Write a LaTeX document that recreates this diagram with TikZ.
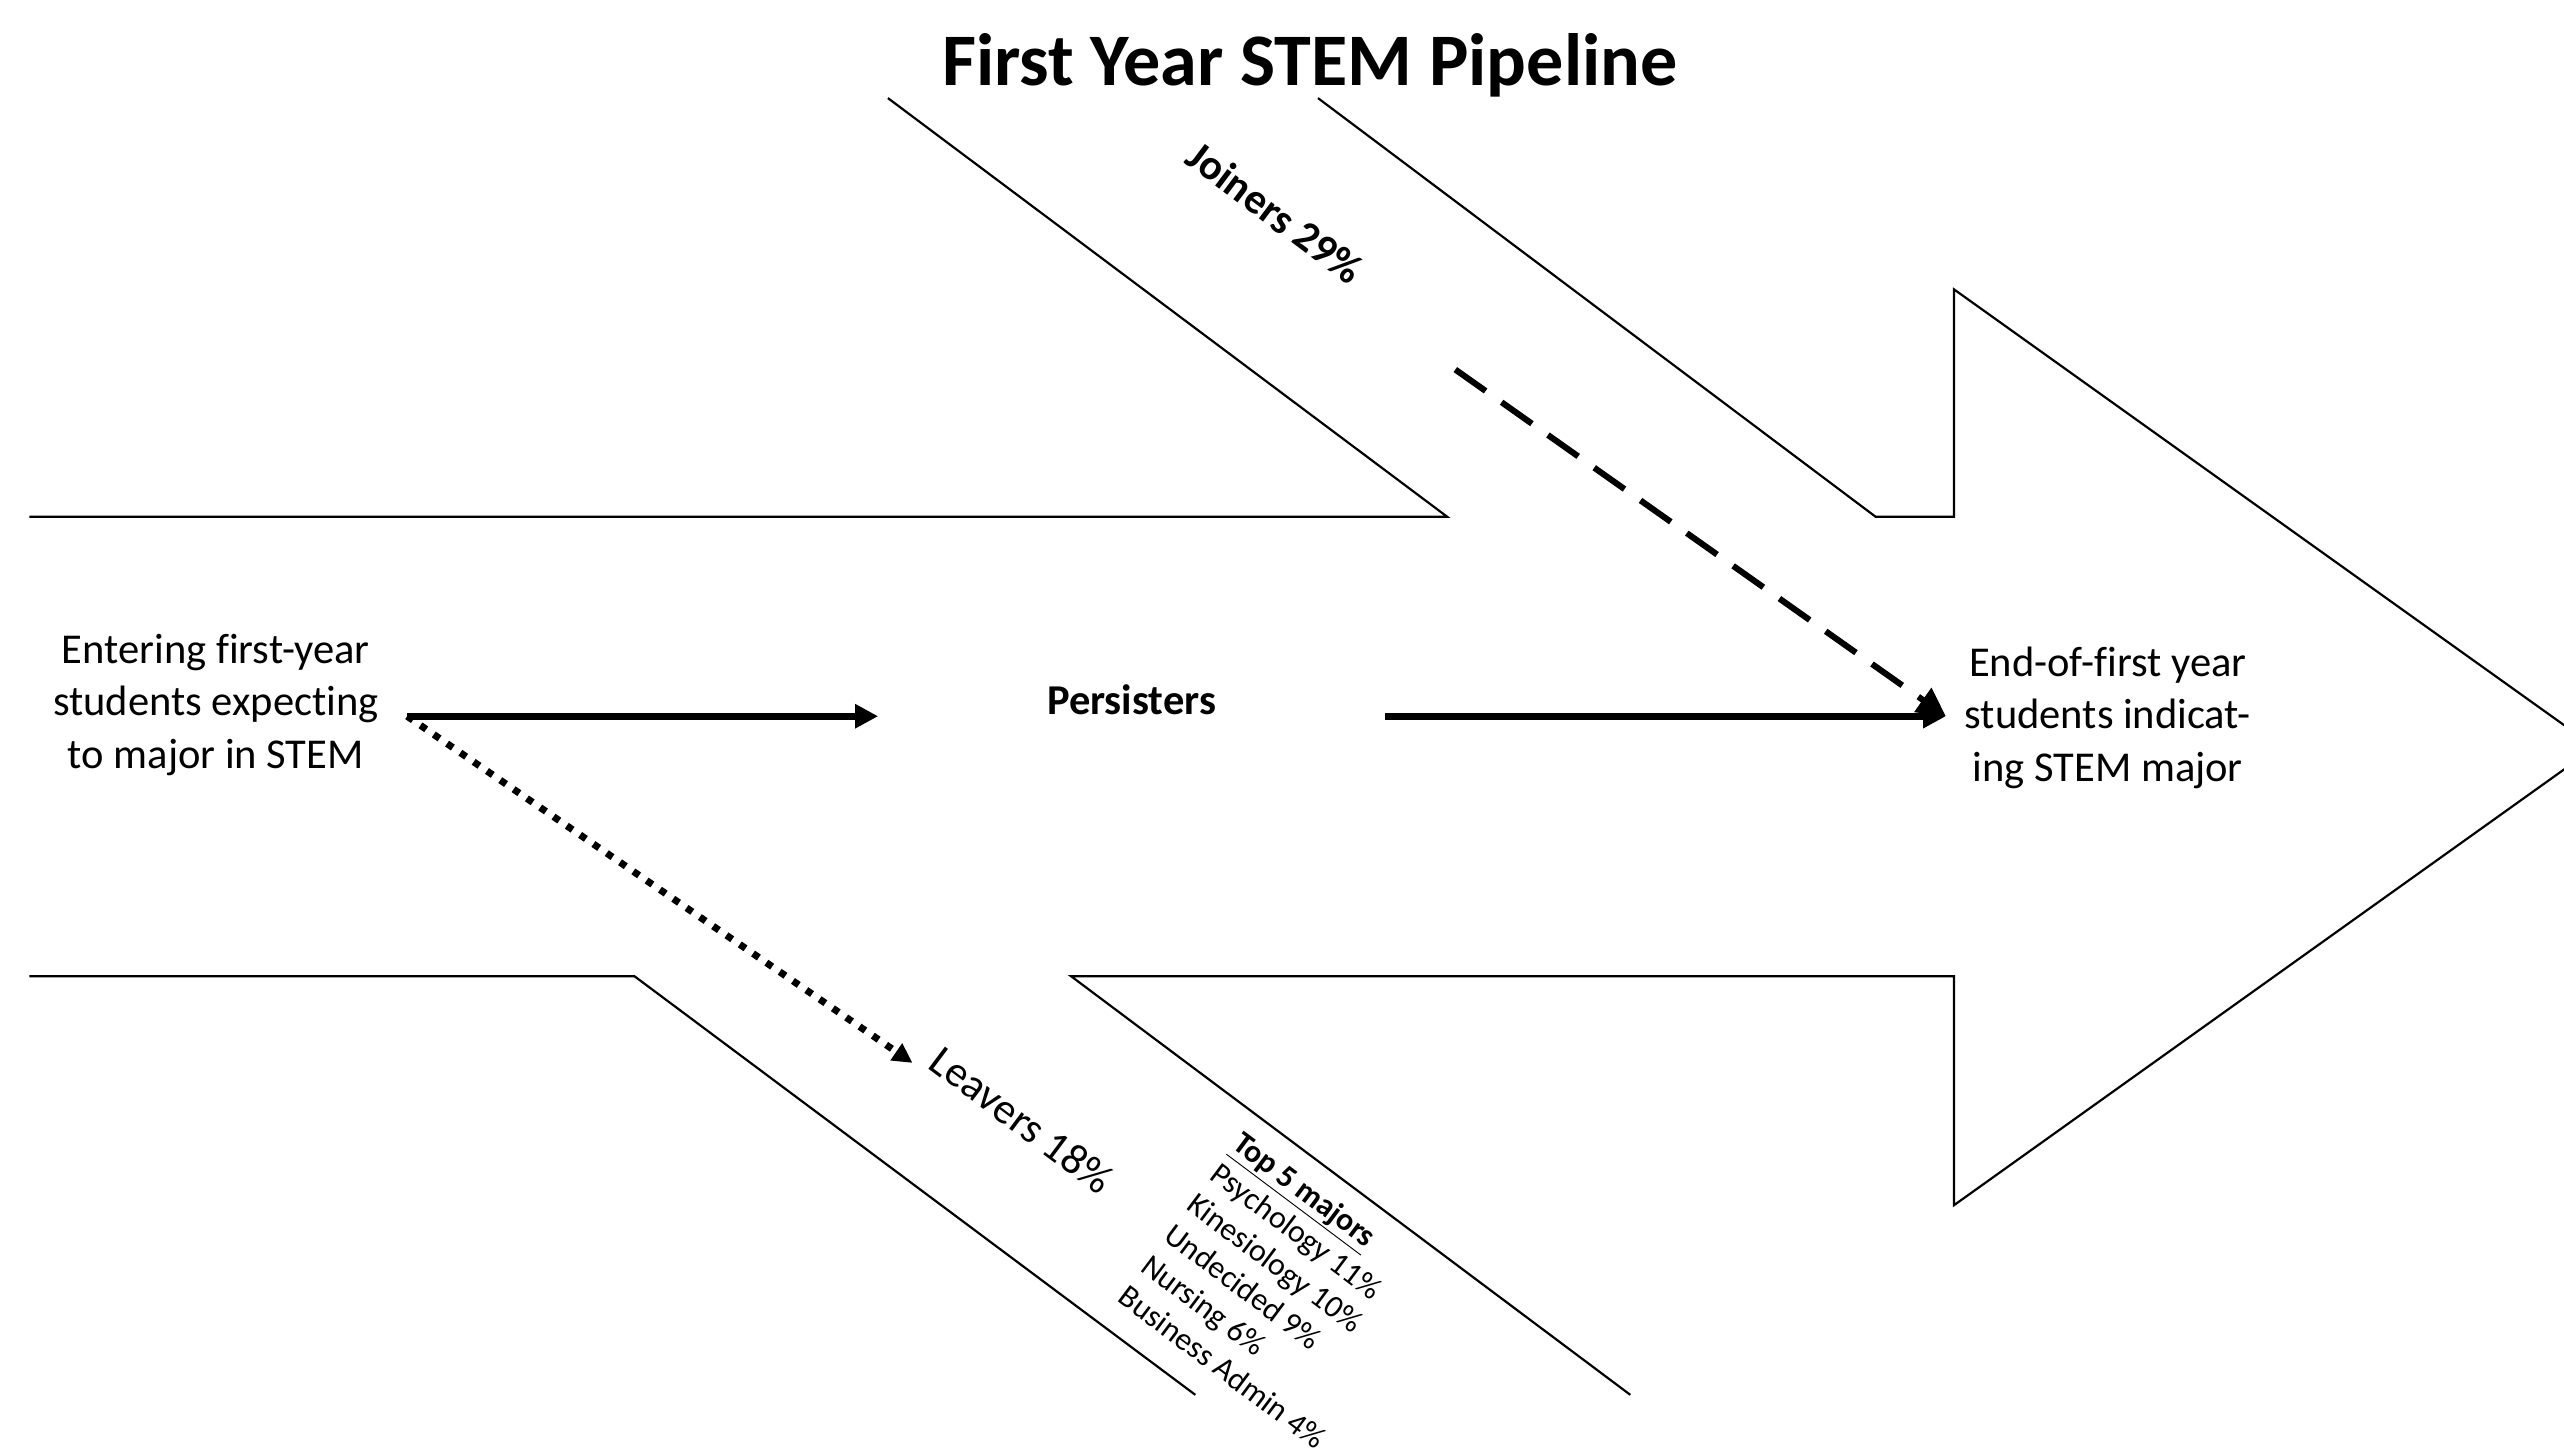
\documentclass[tikz,border=0pt]{standalone}
\usepackage{fontspec}
\setmainfont{Carlito}[Ligatures={NoCommon}]
\usepackage{tikz}
\usetikzlibrary{arrows.meta}

\begin{document}
\begin{tikzpicture}[x=0.75pt,y=0.75pt,yscale=-1,xscale=1,
  wall/.style={line width=1pt,line join=miter},
  body/.style={inner sep=0.75pt,align=center,font=\fontsize{19.5}{24}\selectfont},
  slant/.style={inner sep=0.75pt,rotate=-36.87},
  flow/.style={line width=3.1pt,-{Triangle[length=10.5pt,width=10.5pt]}},
  joinflow/.style={line width=2.8pt,dash pattern=on 17pt off 9pt,-{Triangle[length=13pt,width=13pt]}},
  leaveflow/.style={line width=3.2pt,dash pattern=on 3.2pt off 4.2pt,-{Triangle[length=9pt,width=9pt]}}]

\useasboundingbox (0,0) rectangle (1568,889);
\clip (0,0) rectangle (1568,889);

% pipeline walls
\draw[wall] (543,60) -- (885,316) -- (18,316) ;
\draw[wall] (806,60) -- (1147,316) -- (1195,316) -- (1195,177) -- (1587,457) -- (1195,737) -- (1195,597) -- (655,597) -- (997,853) ;
\draw[wall] (18,597) -- (388,597) -- (731,853) ;

% texts
\draw (801,52) node (title) [anchor=base][inner sep=0.75pt] {\fontsize{34}{40}\selectfont\bfseries First Year STEM Pipeline};

\draw (132,431) node (enter) [body] {Entering first-year\\students expecting\\to major in STEM};

\draw (692,428) node (persist) [body,font=\fontsize{19.5}{24}\selectfont\bfseries] {Persisters};

\draw (1289,439) node (endyear) [body] {End-of-first year\\students indicat-\\ing STEM major};

\draw (780,130) node (joiners) [slant,font=\fontsize{19.5}{24}\selectfont\bfseries] {Joiners 29\%};

\draw (625,685) node (leavers) [slant,font=\fontsize{19.8}{24}\selectfont] {Leavers 18\%};

\draw (761,689) node (majors) [slant,anchor=north west,align=left,font=\fontsize{14.6}{17.6}\selectfont] {\underline{\textbf{Top 5 majors}}\\Psychology 11\%\\Kinesiology 10\%\\Undecided 9\%\\Nursing 6\%\\Business Admin 4\%};

% flows
\coordinate (fork) at (249,438);
\coordinate (persistin) at (537,438);
\coordinate (persistout) at (847,438);
\coordinate (merge) at (1190,438);
\coordinate (joinstart) at (890,226);
\coordinate (leaveend) at (558,650);

\draw[flow] (fork) -- (persistin);
\draw[flow] (persistout) -- (merge);
\draw[joinflow] (joinstart) -- (merge);
\draw[leaveflow] (fork) -- (leaveend);
\end{tikzpicture}
\end{document}
